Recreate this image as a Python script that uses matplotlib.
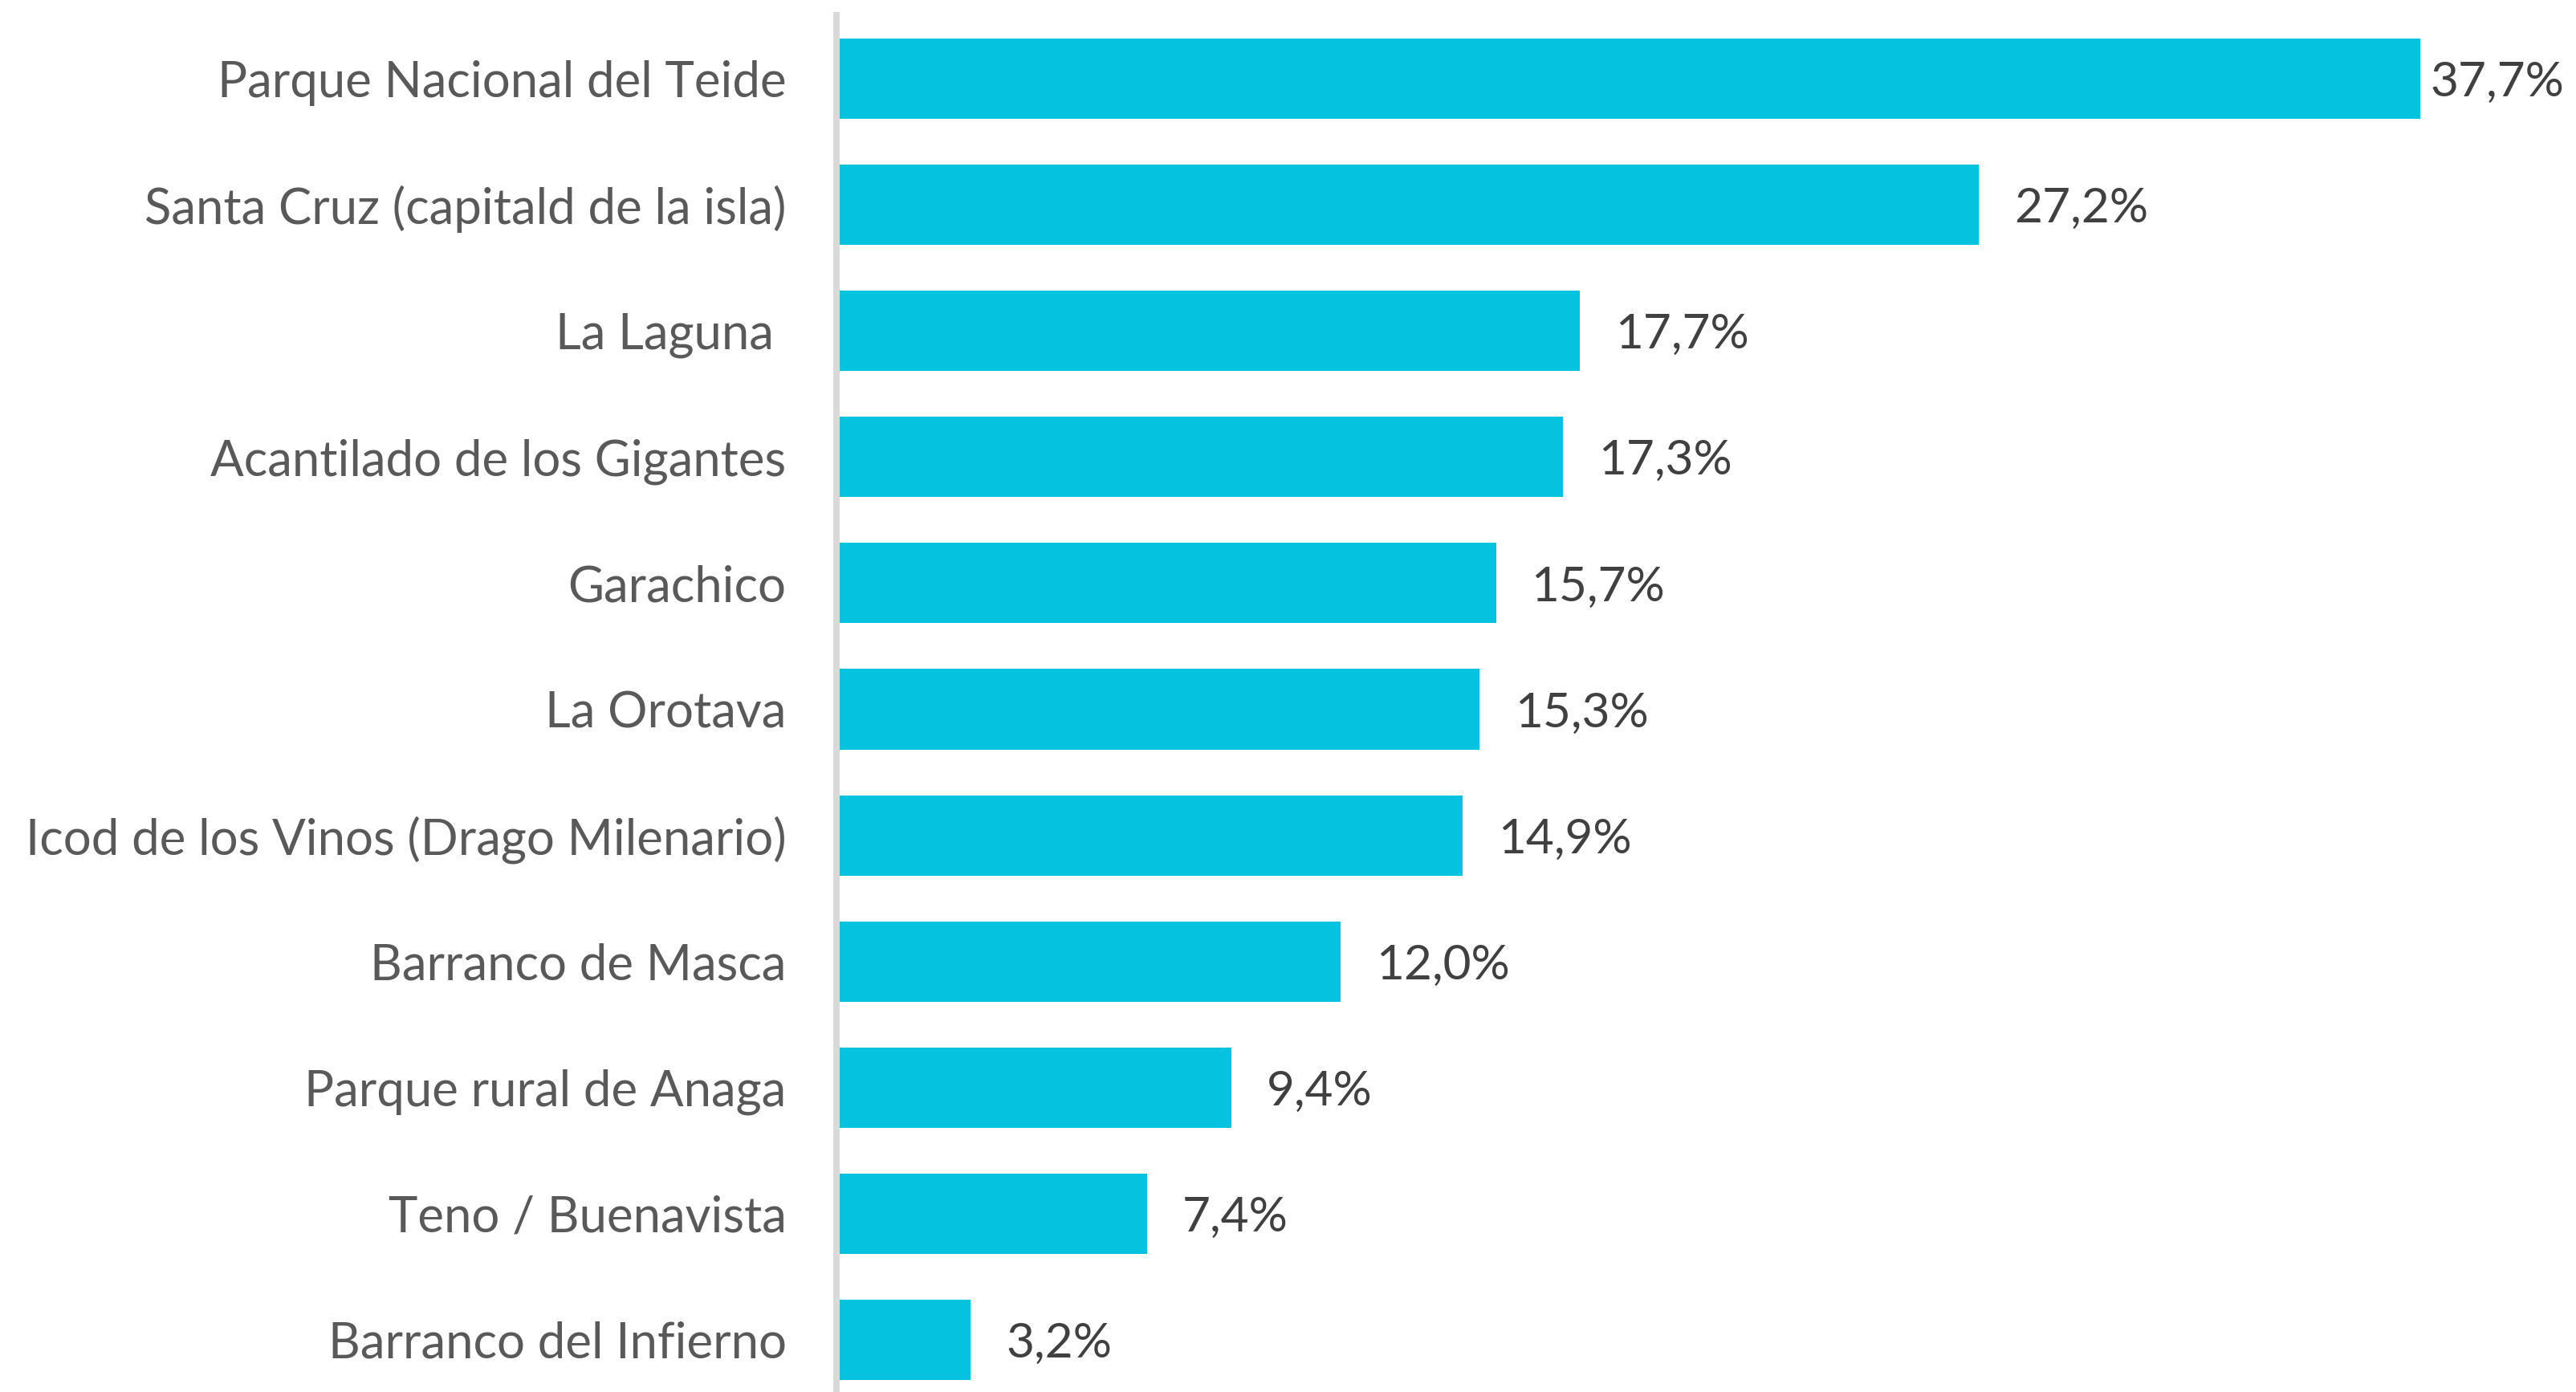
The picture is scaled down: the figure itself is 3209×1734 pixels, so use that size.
"""
Horizontal bar chart: most visited places in Tenerife (% of visitors).

Saves PNG to out.png.
"""

import matplotlib
matplotlib.use("Agg")
import matplotlib.pyplot as plt

places = [
    "Parque Nacional del Teide",
    "Santa Cruz (capitald de la isla)",
    "La Laguna ",
    "Acantilado de los Gigantes",
    "Garachico",
    "La Orotava",
    "Icod de los Vinos (Drago Milenario)",
    "Barranco de Masca",
    "Parque rural de Anaga",
    "Teno / Buenavista",
    "Barranco del Infierno",
]
share = [37.7, 27.2, 17.7, 17.3, 15.7, 15.3, 14.9, 12.0, 9.4, 7.4, 3.2]
value_labels = [f"{v:.1f}%".replace(".", ",") for v in share]

BAR_COLOR = "#05C3DE"

plt.rcParams["font.family"] = ["Lato", "DejaVu Sans"]

W, H = 3209, 1734
fig = plt.figure(figsize=(W / 100, H / 100), dpi=100)
left, top = 1042, 19.45
slot = 157.1
px_per_pct = 52.33
ax = fig.add_axes([left / W, 1 - (top + 11 * slot) / H,
                   40 * px_per_pct / W, 11 * slot / H])

pos = list(range(len(places)))
ax.barh(pos, share, height=0.637, color=BAR_COLOR, zorder=2)
ax.set_ylim(len(places) - 0.5, -0.5)
ax.set_xlim(0, 40)

ax.set_yticks(pos)
ax.set_yticklabels(places, fontsize=44.5, color="#595959")
ax.tick_params(axis="y", length=0, pad=45)
ax.set_xticks([])

for s in ["top", "right", "bottom"]:
    ax.spines[s].set_visible(False)
ax.spines["left"].set_color("#d9d9d9")
ax.spines["left"].set_linewidth(5.8)
ax.spines["left"].set_zorder(3)

for i, (v, lab) in enumerate(zip(share, value_labels)):
    # Excel pulls the longest label in so it fits on the canvas
    pad = 13 if i == 0 else 44
    ax.annotate(lab, (v, i), xytext=(pad, 0), textcoords="offset pixels",
                ha="left", va="center_baseline", fontsize=43.5, color="#404040")

fig.savefig("out.png", dpi=100)
